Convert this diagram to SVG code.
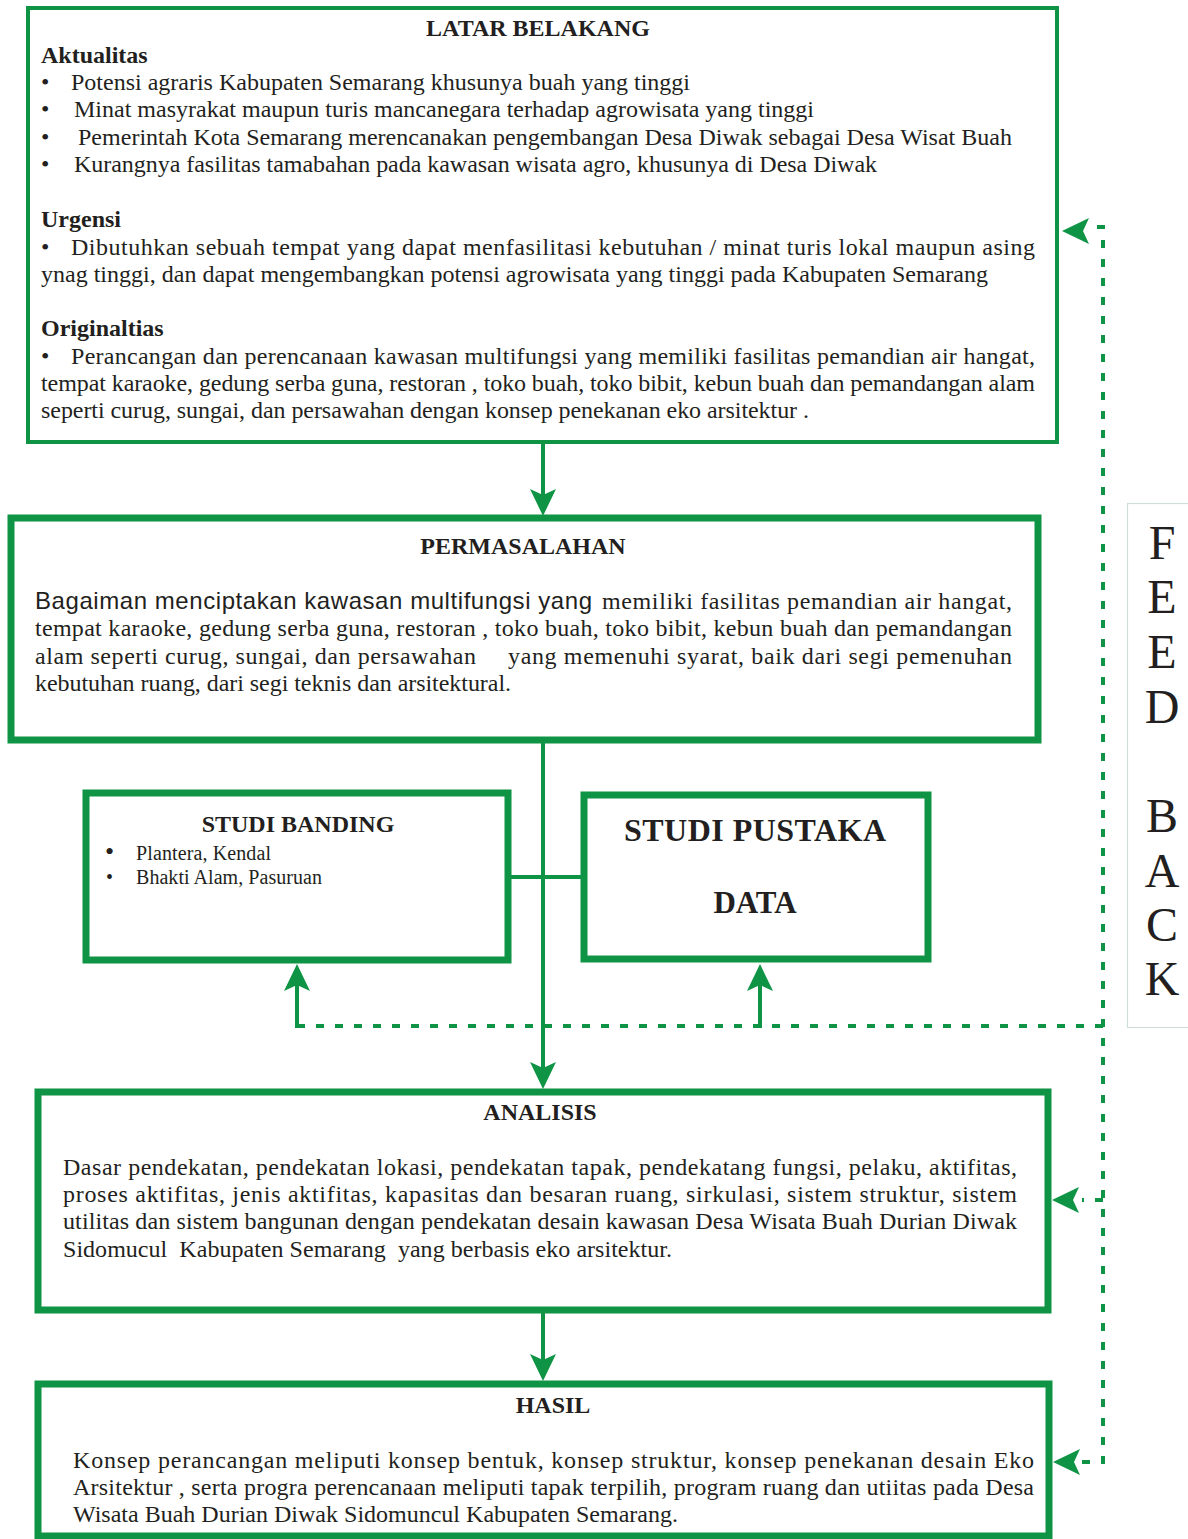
<svg xmlns="http://www.w3.org/2000/svg" xmlns:xlink="http://www.w3.org/1999/xlink" width="1188" height="1539" viewBox="0 0 1188 1539">
<style>
.box{fill:#fff;stroke:#0e9444;stroke-width:7}
.thin{stroke-width:4}
.ln{fill:none;stroke:#0e9444;stroke-width:4}
.dash{fill:none;stroke:#0e9444;stroke-width:4;stroke-dasharray:8 11}
.ah{fill:#0e9444}
text{font-family:"Liberation Serif","Times New Roman",serif;fill:#231f20;font-size:24px}
.b{font-weight:bold}
.c{text-anchor:middle}
.sans{font-family:"Liberation Sans",Arial,sans-serif}
.fb{font-size:48px;text-anchor:middle}
.sm{font-size:20px}
</style>
<defs>
<path id="ah" d="M0,0 L-13,-27 L0,-21 L13,-27 Z"/>
</defs>
<rect width="1188" height="1539" fill="#fff"/>

<g id="feedback-label">
<rect x="1127.5" y="503.5" width="100" height="524" fill="none" stroke="#cfdfd7" stroke-width="1.2"/>
<text class="fb"><tspan x="1162" y="559">F</tspan><tspan x="1162" y="613">E</tspan><tspan x="1162" y="668">E</tspan><tspan x="1162" y="723">D</tspan><tspan x="1162" y="832">B</tspan><tspan x="1162" y="887">A</tspan><tspan x="1162" y="941">C</tspan><tspan x="1162" y="995">K</tspan></text>
</g>

<g id="connectors">
<line class="ln" x1="543" y1="442" x2="543" y2="495"/>
<use xlink:href="#ah" class="ah" transform="translate(543,516)"/>
<line class="ln" x1="543" y1="740" x2="543" y2="1068"/>
<use xlink:href="#ah" class="ah" transform="translate(543,1089)"/>
<line class="ln" x1="508" y1="877" x2="584" y2="877"/>
<line class="ln" x1="543" y1="1310" x2="543" y2="1360"/>
<use xlink:href="#ah" class="ah" transform="translate(543,1381)"/>
<line class="ln" x1="297" y1="1028" x2="297" y2="985"/>
<use xlink:href="#ah" class="ah" transform="translate(297,964) rotate(180)"/>
<line class="ln" x1="760" y1="1028" x2="760" y2="985"/>
<use xlink:href="#ah" class="ah" transform="translate(760,964) rotate(180)"/>
<path class="dash" d="M297,1026 H1103"/>
<path class="dash" d="M1097,227 H1103 V1462 H1082"/>
<path class="dash" d="M1103,1200 H1082"/>
<use xlink:href="#ah" class="ah" transform="translate(1062,231) rotate(90)"/>
<use xlink:href="#ah" class="ah" transform="translate(1052,1200) rotate(90)"/>
<use xlink:href="#ah" class="ah" transform="translate(1053,1462) rotate(90)"/>
</g>

<g id="latar-belakang">
<rect class="box thin" x="28" y="8" width="1029" height="434"/>
<text class="b c" x="538" y="36">LATAR BELAKANG</text>
<text class="b" x="41" y="63">Aktualitas</text>
<text x="41" y="90">•</text>
<text x="71" y="90" textLength="619" lengthAdjust="spacing">Potensi agraris Kabupaten Semarang khusunya buah yang tinggi</text>
<text x="41" y="117">•</text>
<text x="74" y="117" textLength="740" lengthAdjust="spacing">Minat masyrakat maupun turis mancanegara terhadap agrowisata yang tinggi</text>
<text x="41" y="145">•</text>
<text x="78" y="145" textLength="934" lengthAdjust="spacing">Pemerintah Kota Semarang merencanakan pengembangan Desa Diwak sebagai Desa Wisat Buah</text>
<text x="41" y="172">•</text>
<text x="74" y="172" textLength="803" lengthAdjust="spacing">Kurangnya fasilitas tamabahan pada kawasan wisata agro, khusunya di Desa Diwak</text>
<text class="b" x="41" y="227">Urgensi</text>
<text x="41" y="255">•</text>
<text x="71" y="255" textLength="964" lengthAdjust="spacing">Dibutuhkan sebuah tempat yang dapat menfasilitasi kebutuhan / minat turis lokal maupun asing</text>
<text x="41" y="282" textLength="947" lengthAdjust="spacing">ynag tinggi, dan dapat mengembangkan potensi agrowisata yang tinggi pada Kabupaten Semarang</text>
<text class="b" x="41" y="336">Originaltias</text>
<text x="41" y="364">•</text>
<text x="71" y="364" textLength="964" lengthAdjust="spacing">Perancangan dan perencanaan kawasan multifungsi yang memiliki fasilitas pemandian air hangat,</text>
<text x="41" y="391" textLength="994" lengthAdjust="spacing">tempat karaoke, gedung serba guna, restoran , toko buah, toko bibit, kebun buah dan pemandangan alam</text>
<text x="41" y="418" textLength="768" lengthAdjust="spacing">seperti curug, sungai, dan persawahan dengan konsep penekanan eko arsitektur .</text>
</g>

<g id="permasalahan">
<rect class="box" x="11" y="518" width="1027" height="222"/>
<text class="b c" x="523" y="554">PERMASALAHAN</text>
<text class="sans" x="35" y="609" textLength="557" lengthAdjust="spacing">Bagaiman menciptakan kawasan multifungsi yang</text>
<text x="602" y="609" textLength="410" lengthAdjust="spacing">memiliki fasilitas pemandian air hangat,</text>
<text x="35" y="636" textLength="977" lengthAdjust="spacing">tempat karaoke, gedung serba guna, restoran , toko buah, toko bibit, kebun buah dan pemandangan</text>
<text x="35" y="664" textLength="441" lengthAdjust="spacing">alam seperti curug, sungai, dan persawahan</text>
<text x="508" y="664" textLength="504" lengthAdjust="spacing">yang memenuhi syarat, baik dari segi pemenuhan</text>
<text x="35" y="691" textLength="476" lengthAdjust="spacing">kebutuhan ruang, dari segi teknis dan arsitektural.</text>
</g>

<g id="studi-banding">
<rect class="box" x="86" y="793" width="422" height="167"/>
<text class="b c" x="298" y="832">STUDI BANDING</text>
<text x="105" y="860" style="font-size:26px">•</text>
<text class="sm" x="136" y="860" textLength="135" lengthAdjust="spacing">Plantera, Kendal</text>
<text class="sm" x="106" y="884">•</text>
<text class="sm" x="136" y="884" textLength="186" lengthAdjust="spacing">Bhakti Alam, Pasuruan</text>
</g>

<g id="studi-pustaka">
<rect class="box" x="584" y="795" width="344" height="164"/>
<text class="b c" x="755" y="841" style="font-size:32px" textLength="262" lengthAdjust="spacing">STUDI PUSTAKA</text>
<text class="b c" x="755" y="913" style="font-size:31px">DATA</text>
</g>

<g id="analisis">
<rect class="box" x="38" y="1092" width="1010" height="218"/>
<text class="b c" x="540" y="1120">ANALISIS</text>
<text x="63" y="1175" textLength="954" lengthAdjust="spacing">Dasar pendekatan, pendekatan lokasi, pendekatan tapak, pendekatang fungsi, pelaku, aktifitas,</text>
<text x="63" y="1202" textLength="954" lengthAdjust="spacing">proses aktifitas, jenis aktifitas, kapasitas dan besaran ruang, sirkulasi, sistem struktur, sistem</text>
<text x="63" y="1229" textLength="954" lengthAdjust="spacing">utilitas dan sistem bangunan dengan pendekatan desain kawasan Desa Wisata Buah Durian Diwak</text>
<text x="63" y="1257" textLength="609" lengthAdjust="spacing" xml:space="preserve">Sidomucul  Kabupaten Semarang  yang berbasis eko arsitektur.</text>
</g>

<g id="hasil">
<rect class="box" x="38" y="1384" width="1011" height="152"/>
<text class="b c" x="553" y="1413">HASIL</text>
<text x="73" y="1468" textLength="961" lengthAdjust="spacing">Konsep perancangan meliputi konsep bentuk, konsep struktur, konsep penekanan desain Eko</text>
<text x="73" y="1495" textLength="961" lengthAdjust="spacing">Arsitektur , serta progra perencanaan meliputi tapak terpilih, program ruang dan utiitas pada Desa</text>
<text x="73" y="1522" textLength="605" lengthAdjust="spacing">Wisata Buah Durian Diwak Sidomuncul Kabupaten Semarang.</text>
</g>
</svg>
